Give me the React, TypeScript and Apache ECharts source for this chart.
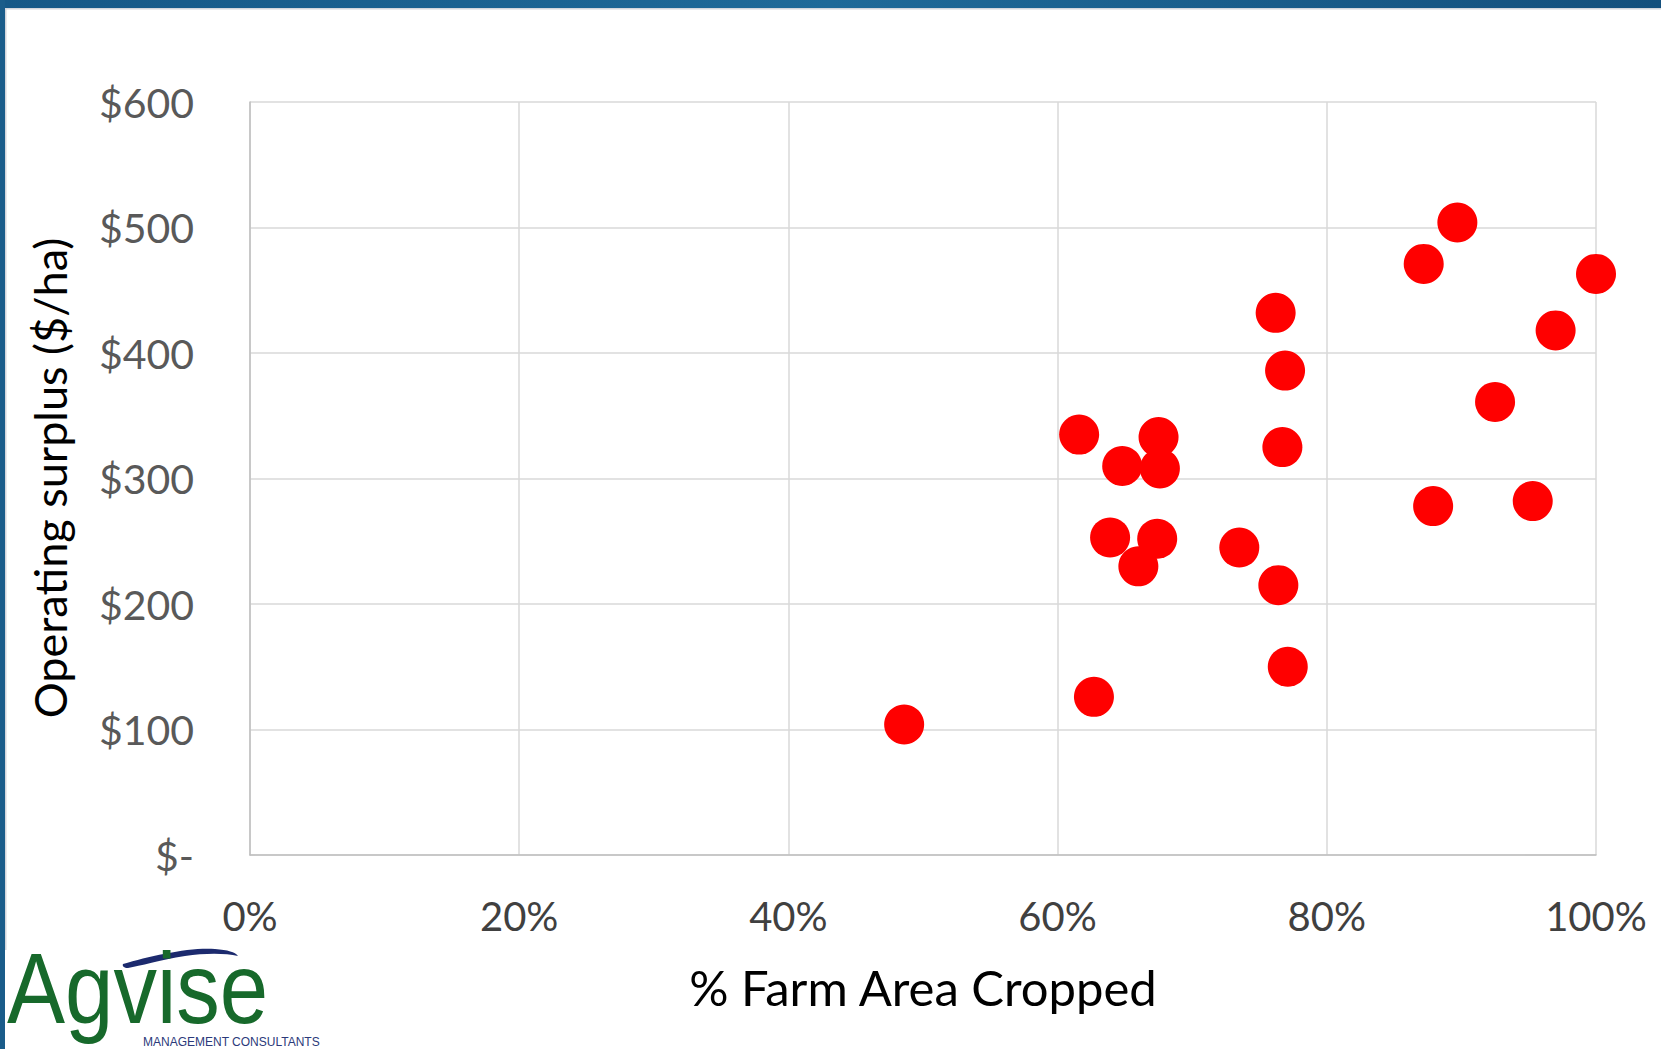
import React, { useEffect, useRef } from "react";
import * as echarts from "echarts";

const pctCropped: number[] = [48.6, 61.6, 62.7, 63.9, 64.8, 66.0, 67.5, 67.6, 67.4, 73.5, 76.2, 76.9, 76.7, 76.4, 77.1, 87.2, 89.7, 87.9, 92.5, 97.0, 95.3, 100];
const surplus: number[] = [104, 335, 126, 253, 310, 230, 333, 308, 252, 245, 432, 386, 325, 215, 150, 471, 504, 278, 361, 418, 282, 463];

const xTicks = { min: 0, max: 100, interval: 20 };
const yTicks = { min: 0, max: 600, interval: 100 };

const xTitle = "% Farm Area Cropped";
const yTitle = "Operating surplus ($/ha)";

const FONT = "Lato, 'Open Sans', sans-serif";

echarts.graphic.registerShape(
  "swoosh",
  echarts.graphic.extendPath(
    "M123,964 C150,956 190,947 215,949 C228,950 235,952 238,956 C225,953 205,953 185,956 C160,960 140,966 128,968 C124,968 122,966 123,964 Z",
    {}
  ) as any
);

export default function App() {
  const ref = useRef<HTMLDivElement>(null);
  useEffect(() => {
    document.body.style.margin = "0";
    const chart = echarts.init(ref.current!, null, { renderer: "svg" });
    const points = pctCropped.map((x, i) => [x, surplus[i]]);
    chart.setOption({
      animation: false,
      backgroundColor: "#ffffff",
      grid: { left: 250, right: 65, top: 102, bottom: 194, containLabel: false },
      xAxis: {
        type: "value",
        min: xTicks.min,
        max: xTicks.max,
        interval: xTicks.interval,
        axisLine: { show: true, lineStyle: { color: "#bfbfbf", width: 1.5 } },
        axisTick: { show: false },
        splitLine: { show: true, lineStyle: { color: "#d9d9d9", width: 1.5 } },
        axisLabel: {
          margin: 41,
          color: "#404040",
          fontFamily: FONT,
          fontSize: 40,
          formatter: (v: number) => `${v}%`,
        },
      },
      yAxis: {
        type: "value",
        min: yTicks.min,
        max: yTicks.max,
        interval: yTicks.interval,
        axisLine: { show: true, lineStyle: { color: "#bfbfbf", width: 1.5 } },
        axisTick: { show: false },
        splitLine: { show: true, lineStyle: { color: "#d9d9d9", width: 1.5 } },
        axisLabel: {
          margin: 56,
          color: "#595959",
          fontFamily: FONT,
          fontSize: 41,
          formatter: (v: number) => (v === 0 ? "$-" : `$${v}`),
        },
      },
      series: [
        {
          type: "scatter",
          data: points,
          symbol: "circle",
          symbolSize: 40,
          itemStyle: { color: "#ff0000", opacity: 1 },
          z: 5,
        },
      ],
      graphic: [
        {
          type: "rect",
          shape: { x: 0, y: 0, width: 1661, height: 8 },
          style: {
            fill: new echarts.graphic.LinearGradient(0, 0, 1, 0, [
              { offset: 0, color: "#165887" },
              { offset: 0.5, color: "#1f6a99" },
              { offset: 1, color: "#14507d" },
            ]),
          },
          silent: true,
        },
        {
          type: "rect",
          shape: { x: 0, y: 8, width: 1661, height: 1.5 },
          style: { fill: "#d3d6dc" },
          silent: true,
        },
        {
          type: "rect",
          shape: { x: 0, y: 0, width: 5, height: 1049 },
          style: { fill: "#1a5c8a" },
          silent: true,
        },
        {
          type: "rect",
          shape: { x: 5, y: 8, width: 1.5, height: 942 },
          style: { fill: "#d3d6dc" },
          silent: true,
        },
        {
          type: "text",
          x: 923,
          y: 987,
          style: {
            text: xTitle,
            fontFamily: FONT,
            fontSize: 49,
            fill: "#000000",
            textAlign: "center",
            textVerticalAlign: "middle",
          },
        },
        {
          type: "text",
          x: 50,
          y: 478,
          rotation: Math.PI / 2,
          style: {
            text: yTitle,
            fontFamily: FONT,
            fontSize: 45,
            fill: "#000000",
            textAlign: "center",
            textVerticalAlign: "middle",
          },
        },
        {
          type: "swoosh",
          style: { fill: "#1c2a6e" },
          silent: true,
        },
        {
          type: "text",
          x: 7,
          y: 988,
          scaleX: 0.87,
          style: {
            text: "Agvise",
            fontFamily: "'Liberation Sans', Arial, sans-serif",
            fontSize: 100,
            fill: "#17692b",
            textAlign: "left",
            textVerticalAlign: "middle",
          },
        },
        {
          type: "text",
          x: 143,
          y: 1048,
          style: {
            text: "MANAGEMENT CONSULTANTS",
            fontFamily: "'Liberation Sans', Arial, sans-serif",
            fontSize: 12,
            fill: "#2b3a7a",
            textAlign: "left",
            textVerticalAlign: "bottom",
          },
        },
      ],
    });
    return () => chart.dispose();
  }, []);
  return (
    <div
      ref={ref}
      style={{ position: "absolute", left: 0, top: 0, width: 1661, height: 1049 }}
    />
  );
}
